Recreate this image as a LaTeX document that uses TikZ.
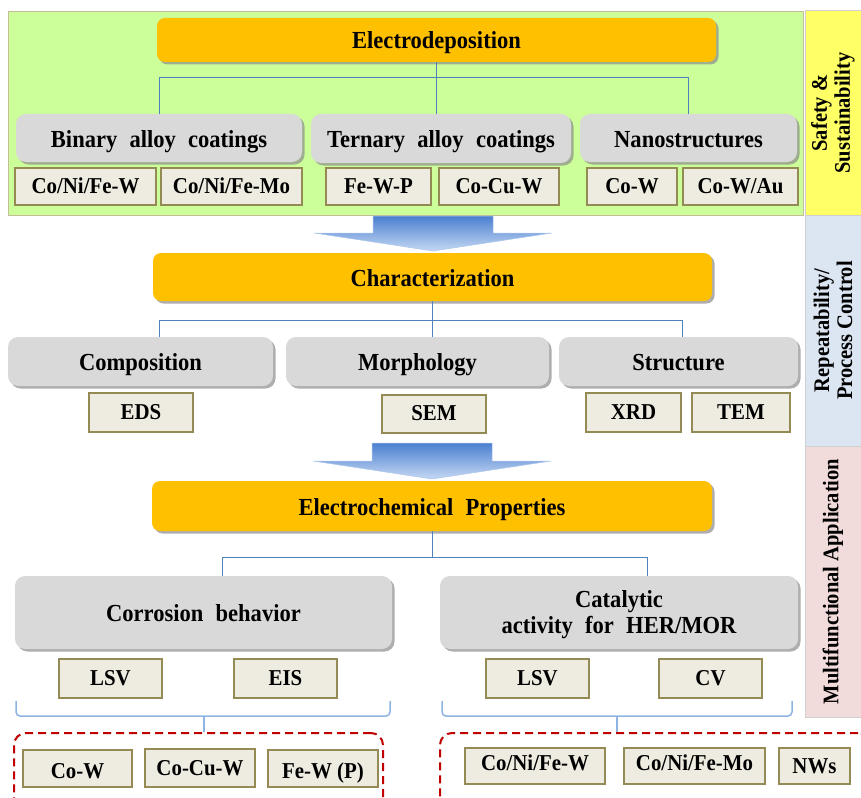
\documentclass[tikz,border=0pt]{standalone}
\usepackage{fontspec}
\setmainfont{Liberation Serif}[FakeStretch=0.92]
\usetikzlibrary{shadows}
\definecolor{panelG}{HTML}{CCFF99}
\definecolor{panelB}{HTML}{C4BD97}
\definecolor{hdrC}{HTML}{FFC000}
\definecolor{grayC}{HTML}{D9D9D9}
\definecolor{smallF}{HTML}{EEECE1}
\definecolor{smallD}{HTML}{948A54}
\definecolor{connC}{HTML}{4F81BD}
\definecolor{braceC}{HTML}{8EB4E3}
\definecolor{dashC}{HTML}{C00000}
\definecolor{arrTop}{HTML}{4A7FD0}
\definecolor{arrBot}{HTML}{C5D8F3}
\definecolor{sbY}{HTML}{FFFF66}
\definecolor{sbB}{HTML}{DCE6F2}
\definecolor{sbP}{HTML}{F2DCDB}
\definecolor{sbD}{HTML}{D0D0D0}
\newcommand\myhfont{\fontsize{24.5}{26}\selectfont\bfseries}
\newcommand\mysfont{\fontsize{22.7}{25}\selectfont\bfseries}
\newcommand\mybarfont{\fontsize{22.3}{23}\selectfont\bfseries}
\newcommand\wsp{\hspace{0.5em}}
\tikzset{
  hdr/.style={rounded corners=8pt, fill=hdrC, inner sep=0pt, font=\myhfont, text height=18pt, text depth=0pt,
    drop shadow={shadow xshift=2.5pt, shadow yshift=-2.5pt, fill=black!45, opacity=0.7}},
  graybox/.style={rounded corners=10pt, fill=grayC, inner sep=0pt, font=\myhfont, align=center, text height=18pt, text depth=0pt,
    drop shadow={shadow xshift=2.5pt, shadow yshift=-2.5pt, fill=black!45, opacity=0.7}},
  smallbox/.style={fill=smallF, draw=smallD, line width=2pt, inner sep=0pt, font=\mysfont, text height=13pt, text depth=0pt},
  conn/.style={draw=connC, line width=0.8pt},
  bracel/.style={draw=braceC, line width=1.5pt, rounded corners=4pt},
  dashbox/.style={draw=dashC, line width=2pt, dash pattern=on 8pt off 5pt, rounded corners=12pt, inner sep=0pt},
  sidebar/.style={draw=sbD, line width=1pt, inner sep=0pt, font=\mybarfont, align=center, rotate=90},
  bigarrow/.style={top color=arrTop, bottom color=arrBot, draw=arrBot!80!arrTop, line width=0.5pt}
}
\begin{document}
\begin{tikzpicture}[x=1pt,y=-1pt]
\path[use as bounding box] (0,0) rectangle (861,797);
\clip (0,0) rectangle (861,797);
\fill[white] (0,0) rectangle (861,797);

% side bars
\node[sidebar, fill=sbY, minimum width=204pt, minimum height=56pt] (sb1) at (833,113) {Safety \&\\Sustainability};
\node[sidebar, fill=sbB, minimum width=231pt, minimum height=56pt] (sb2) at (833,330.5) {Repeatability/\\Process Control};
\node[sidebar, fill=sbP, minimum width=271pt, minimum height=56pt] (sb3) at (833,581.5) {Multifunctional Application};

% green panel
\node[fill=panelG, draw=panelB, line width=1pt, minimum width=795pt, minimum height=203pt, inner sep=0pt] (panel) at (405.5,113.5) {};

% level 1
\node[hdr, minimum width=559pt, minimum height=44pt] (ed) at (436.5,40) {Electrodeposition};
\node[graybox, minimum width=286pt, minimum height=48pt] (bin) at (159,138) {Binary\wsp alloy\wsp coatings};
\node[graybox, minimum width=260pt, minimum height=49pt] (ter) at (441,138.5) {Ternary\wsp alloy\wsp coatings};
\node[graybox, minimum width=217pt, minimum height=48pt] (nano) at (688.5,138) {Nanostructures};
\node[smallbox, minimum width=141pt, minimum height=37pt] (s1) at (85.5,186.5) {Co/Ni/Fe-W};
\node[smallbox, minimum width=141pt, minimum height=37pt] (s2) at (231.5,186.5) {Co/Ni/Fe-Mo};
\node[smallbox, minimum width=105pt, minimum height=37pt] (s3) at (378.5,186.5) {Fe-W-P};
\node[smallbox, minimum width=120pt, minimum height=37pt] (s4) at (499,186.5) {Co-Cu-W};
\node[smallbox, minimum width=90pt, minimum height=37pt] (s5) at (632,186.5) {Co-W};
\node[smallbox, minimum width=115pt, minimum height=37pt] (s6) at (740.5,186.5) {Co-W/Au};
\coordinate (j1) at (440,77);
\draw[conn] (ed.south) -- (ed.south |- ter.north);
\draw[conn] (bin.north) -- (bin.north |- j1) -- (nano.north |- j1) -- (nano.north);

% arrow 1
\shade[bigarrow] (373,216) -- (493,216) -- (493,233) -- (552,233) -- (433,251) -- (314,233) -- (373,233) -- cycle;

% level 2
\node[hdr, minimum width=559pt, minimum height=48pt] (char) at (432.5,277) {Characterization};
\node[graybox, minimum width=265pt, minimum height=49pt] (comp) at (140.5,361.5) {Composition};
\node[graybox, minimum width=263pt, minimum height=49pt] (morph) at (417.5,361.5) {Morphology};
\node[graybox, minimum width=239pt, minimum height=49pt] (struct) at (678.5,361.5) {Structure};
\node[smallbox, minimum width=104pt, minimum height=39pt] (eds) at (141,412.5) {EDS};
\node[smallbox, minimum width=104pt, minimum height=38pt] (sem) at (434,414) {SEM};
\node[smallbox, minimum width=95pt, minimum height=39pt] (xrd) at (633.5,412.5) {XRD};
\node[smallbox, minimum width=98pt, minimum height=39pt] (tem) at (741,412.5) {TEM};
\coordinate (c2l) at (159,320);
\coordinate (c2r) at (682,320);
\draw[conn] (char.south) -- (char.south |- morph.north);
\draw[conn] (c2l |- comp.north) -- (c2l) -- (c2r) -- (c2r |- struct.north);

% arrow 2
\shade[bigarrow] (372,443) -- (492,443) -- (492,461) -- (551,461) -- (432,479) -- (313,461) -- (372,461) -- cycle;

% level 3
\node[hdr, minimum width=560pt, minimum height=50pt] (echem) at (432,506) {Electrochemical\wsp Properties};
\node[graybox, minimum width=377pt, minimum height=73pt] (corr) at (203.5,612.5) {Corrosion\wsp behavior};
\node[graybox, minimum width=358pt, minimum height=73pt, text height=46pt, text depth=5pt] (cat) at (619,612.5) {Catalytic\\activity\wsp for\wsp HER/MOR};
\node[smallbox, minimum width=103pt, minimum height=39pt] (lsv1) at (110.5,678.5) {LSV};
\node[smallbox, minimum width=103pt, minimum height=39pt] (eis) at (285.5,678.5) {EIS};
\node[smallbox, minimum width=103pt, minimum height=39pt] (lsv2) at (537.5,678.5) {LSV};
\node[smallbox, minimum width=103pt, minimum height=39pt] (cv) at (710.5,678.5) {CV};
\coordinate (c3l) at (222,557);
\coordinate (c3r) at (647,557);
\draw[conn] (echem.south) -- (echem.south |- c3l);
\draw[conn] (c3l |- corr.north) -- (c3l) -- (c3r) -- (c3r |- cat.north);

% dashed groups
\node[dashbox, minimum width=369pt, minimum height=80pt] (dl) at (198.5,773) {};
\node[dashbox, minimum width=430pt, minimum height=80pt] (dr) at (655,773) {};
\node[smallbox, minimum width=109pt, minimum height=37pt, text height=19pt] (b1) at (77.5,768.5) {Co-W};
\node[smallbox, minimum width=110pt, minimum height=38pt, text height=14pt] (b2) at (200,768) {Co-Cu-W};
\node[smallbox, minimum width=110pt, minimum height=37pt, text height=19pt] (b3) at (323,768.5) {Fe-W (P)};
\node[smallbox, minimum width=140pt, minimum height=36pt, text height=8pt] (b4) at (535,766) {Co/Ni/Fe-W};
\node[smallbox, minimum width=141pt, minimum height=36pt, text height=8pt] (b5) at (694.5,766) {Co/Ni/Fe-Mo};
\node[smallbox, minimum width=71pt, minimum height=36pt, text height=14pt] (b6) at (814.5,766) {NWs};

% braces
\coordinate (bl) at (204,716);
\coordinate (br) at (617,716);
\draw[bracel] (16,701) -- (16,716) -- (390,716) -- (390,701);
\draw[draw=braceC, line width=1.5pt] (bl) -- (bl |- dl.north);
\draw[bracel] (442,701) -- (442,716) -- (792,716) -- (792,701);
\draw[draw=braceC, line width=1.5pt] (br) -- (br |- dr.north);
\end{tikzpicture}
\end{document}
